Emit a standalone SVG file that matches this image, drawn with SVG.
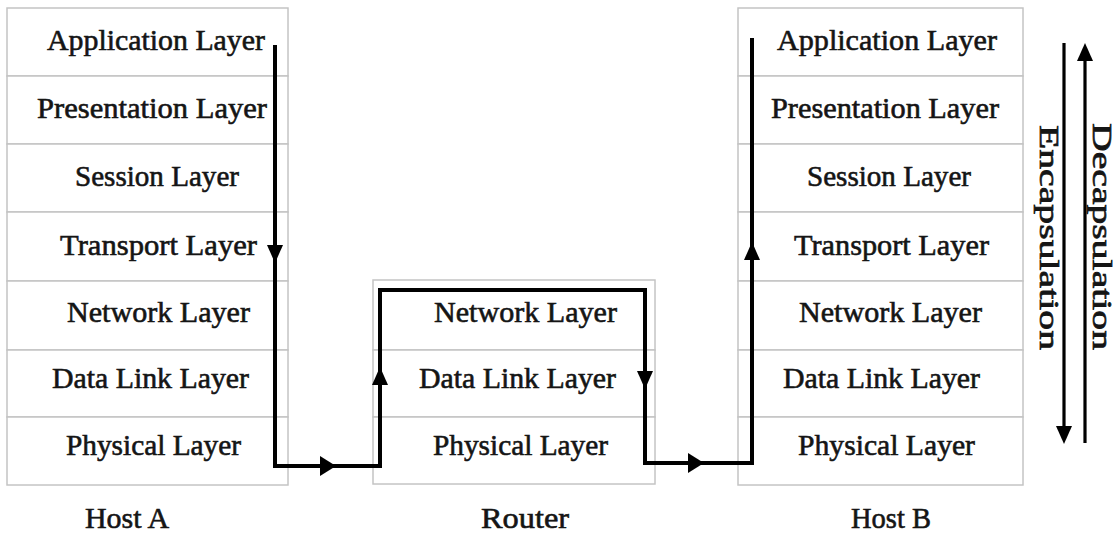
<svg xmlns="http://www.w3.org/2000/svg" xmlns:xlink="http://www.w3.org/1999/xlink" width="1116" height="536" viewBox="0 0 1116 536">
  <style>
    .cell { fill: #ffffff; stroke: #c4c4c4; stroke-width: 1.5; }
    .lbl { font-family: "Liberation Serif", "Times New Roman", serif; font-size: 30px; fill: #151515; stroke: #151515; stroke-width: 0.6; }
    .side { font-family: "Liberation Serif", "Times New Roman", serif; font-size: 28px; fill: #151515; stroke: #151515; stroke-width: 0.7; }
    .flow { fill: none; stroke: #000; stroke-width: 4; stroke-linejoin: miter; }
    .dir { fill: none; stroke: #000; stroke-width: 3.2; }
    .head { fill: #000; }
  </style>
  <defs>
    <!-- arrowheads pointing along +x, tip at origin -->
    <path id="ah" class="head" d="M0,0 L-18,-8 L-18,8 Z"/>
    <path id="ah-wide" class="head" d="M0,0 L-16,-10 L-16,10 Z"/>
  </defs>

  <rect width="1116" height="536" fill="#ffffff"/>

  <!-- Host A protocol stack -->
  <g id="host-a">
    <rect class="cell" x="7" y="8" width="281" height="68"/>
    <rect class="cell" x="7" y="76" width="281" height="68"/>
    <rect class="cell" x="7" y="144" width="281" height="68"/>
    <rect class="cell" x="7" y="212" width="281" height="69"/>
    <rect class="cell" x="7" y="281" width="281" height="69"/>
    <rect class="cell" x="7" y="350" width="281" height="67"/>
    <rect class="cell" x="7" y="417" width="281" height="68"/>
    <text class="lbl" x="47" y="50" textLength="218" lengthAdjust="spacingAndGlyphs">Application Layer</text>
    <text class="lbl" x="37" y="118" textLength="230" lengthAdjust="spacingAndGlyphs">Presentation Layer</text>
    <text class="lbl" x="75" y="186" textLength="164" lengthAdjust="spacingAndGlyphs">Session Layer</text>
    <text class="lbl" x="60" y="255" textLength="197" lengthAdjust="spacingAndGlyphs">Transport Layer</text>
    <text class="lbl" x="67" y="322" textLength="183" lengthAdjust="spacingAndGlyphs">Network Layer</text>
    <text class="lbl" x="52" y="388" textLength="197" lengthAdjust="spacingAndGlyphs">Data Link Layer</text>
    <text class="lbl" x="66" y="455" textLength="175" lengthAdjust="spacingAndGlyphs">Physical Layer</text>
    <text class="lbl" x="85" y="528" textLength="84" lengthAdjust="spacingAndGlyphs">Host A</text>
  </g>

  <!-- Router stack -->
  <g id="router">
    <rect class="cell" x="373" y="280" width="282" height="70"/>
    <rect class="cell" x="373" y="350" width="282" height="67"/>
    <rect class="cell" x="373" y="417" width="282" height="67"/>
    <text class="lbl" x="434" y="322" textLength="183" lengthAdjust="spacingAndGlyphs">Network Layer</text>
    <text class="lbl" x="419" y="388" textLength="197" lengthAdjust="spacingAndGlyphs">Data Link Layer</text>
    <text class="lbl" x="433" y="455" textLength="175" lengthAdjust="spacingAndGlyphs">Physical Layer</text>
    <text class="lbl" x="481" y="528" textLength="88" lengthAdjust="spacingAndGlyphs">Router</text>
  </g>

  <!-- Host B protocol stack -->
  <g id="host-b">
    <rect class="cell" x="738" y="8" width="285" height="68"/>
    <rect class="cell" x="738" y="76" width="285" height="68"/>
    <rect class="cell" x="738" y="144" width="285" height="68"/>
    <rect class="cell" x="738" y="212" width="285" height="69"/>
    <rect class="cell" x="738" y="281" width="285" height="69"/>
    <rect class="cell" x="738" y="350" width="285" height="67"/>
    <rect class="cell" x="738" y="417" width="285" height="68"/>
    <text class="lbl" x="777" y="50" textLength="220" lengthAdjust="spacingAndGlyphs">Application Layer</text>
    <text class="lbl" x="771" y="118" textLength="228" lengthAdjust="spacingAndGlyphs">Presentation Layer</text>
    <text class="lbl" x="807" y="186" textLength="164" lengthAdjust="spacingAndGlyphs">Session Layer</text>
    <text class="lbl" x="794" y="255" textLength="195" lengthAdjust="spacingAndGlyphs">Transport Layer</text>
    <text class="lbl" x="799" y="322" textLength="183" lengthAdjust="spacingAndGlyphs">Network Layer</text>
    <text class="lbl" x="783" y="388" textLength="197" lengthAdjust="spacingAndGlyphs">Data Link Layer</text>
    <text class="lbl" x="798" y="455" textLength="177" lengthAdjust="spacingAndGlyphs">Physical Layer</text>
    <text class="lbl" x="851" y="528" textLength="80" lengthAdjust="spacingAndGlyphs">Host B</text>
  </g>

  <!-- Encapsulation / decapsulation direction labels -->
  <g id="direction-legend">
    <text class="side" transform="translate(1040,125) rotate(90)" textLength="225" lengthAdjust="spacingAndGlyphs">Encapsulation</text>
    <text class="side" transform="translate(1093,123) rotate(90)" textLength="227" lengthAdjust="spacingAndGlyphs">Decapsulation</text>
  </g>

  <!-- Data path and direction arrows -->
  <g id="connectors">
    <path class="flow" d="M275,45 V466 H380 V290 H645 V463 H752 V38"/>
    <use xlink:href="#ah" transform="translate(275,263) rotate(90)"/>
    <use xlink:href="#ah-wide" transform="translate(336,466)"/>
    <use xlink:href="#ah" transform="translate(380,367) rotate(-90)"/>
    <use xlink:href="#ah" transform="translate(645,389) rotate(90)"/>
    <use xlink:href="#ah-wide" transform="translate(704,463)"/>
    <use xlink:href="#ah" transform="translate(752,242) rotate(-90)"/>

    <path class="dir" d="M1064,43 V430"/>
    <use xlink:href="#ah" transform="translate(1064,444) rotate(90)"/>
    <path class="dir" d="M1085,56 V443"/>
    <use xlink:href="#ah" transform="translate(1085,43) rotate(-90)"/>
  </g>
</svg>
